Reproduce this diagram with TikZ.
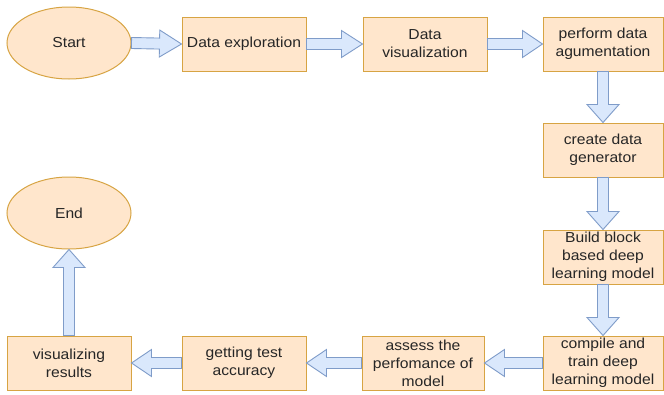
\documentclass[tikz,border=0pt]{standalone}
\usepackage{fontspec}
\setmainfont[FakeStretch=1.08]{Liberation Sans}
\usetikzlibrary{calc,shapes.geometric}

\definecolor{peach}{HTML}{FFE6CC}
\definecolor{peachline}{HTML}{D7A443}
\definecolor{arrowfill}{HTML}{DAE8FC}
\definecolor{arrowline}{HTML}{7F9CC9}
\definecolor{inktext}{HTML}{262626}

\tikzset{
  base/.style={fill=peach, draw=peachline, line width=1pt, text=inktext,
    font=\fontsize{14.5}{18}\selectfont, align=center, inner sep=0pt},
  stepbox/.style={base, rectangle, minimum width=124pt, minimum height=54pt},
  terminal/.style={base, ellipse, minimum width=124pt, minimum height=72pt},
  barrow/.style={fill=arrowfill, draw=arrowline, line width=0.9pt, line join=miter},
}

% Block arrow from #1 to #2: head length #3, half head width #4
\newcommand{\blockarrow}[4]{%
  \coordinate (ba-h) at ($(#2)!#3!(#1)$);
  \draw[barrow]
    ($(#1)!5.5pt!90:(#2)$) -- ($(ba-h)!5.5pt!90:(#2)$) --
    ($(ba-h)!#4!90:(#2)$) -- (#2) --
    ($(ba-h)!#4!-90:(#2)$) -- ($(ba-h)!5.5pt!-90:(#2)$) --
    ($(#1)!5.5pt!-90:(#2)$) -- cycle;
}

\begin{document}
\begin{tikzpicture}[x=1pt, y=-1pt]
  \useasboundingbox (0,0) rectangle (664,394);

  % top row
  \node[terminal] (start)   at (69,43)  {Start};
  \node[stepbox]  (explore) at (244,44) {Data exploration};
  \node[stepbox]  (visual)  at (425,44) {Data\\visualization};
  \node[stepbox, minimum width=120pt] (augment) at (603,44) {perform data\\agumentation};

  % right column
  \node[stepbox, minimum width=120pt] (generator) at (603,150) {create data\\generator};
  \node[stepbox, minimum width=120pt] (build)     at (603,257) {Build block\\based deep\\learning model};
  \node[stepbox, minimum width=120pt] (train)     at (603,363) {compile and\\train deep\\learning model};

  % bottom row
  \node[stepbox, minimum width=122pt] (assess)   at (423,363) {assess the\\perfomance of\\model};
  \node[stepbox]  (accuracy) at (244,363) {getting test\\accuracy};
  \node[stepbox]  (results)  at (69,363)  {visualizing\\results};
  \node[terminal] (finish)   at (69,213)  {End};

  % connectors
  \blockarrow{start.east}{explore.west}{22pt}{13.5pt}
  \blockarrow{explore.east}{visual.west}{21pt}{13.5pt}
  \blockarrow{visual.east}{augment.west}{20pt}{13.5pt}
  \blockarrow{augment.south}{generator.north}{18pt}{16pt}
  \blockarrow{generator.south}{build.north}{18pt}{16pt}
  \blockarrow{build.south}{train.north}{18pt}{16pt}
  \blockarrow{train.west}{assess.east}{20pt}{13.5pt}
  \blockarrow{assess.west}{accuracy.east}{20pt}{13.5pt}
  \blockarrow{accuracy.west}{results.east}{20pt}{13.5pt}
  \blockarrow{results.north}{finish.south}{18pt}{16pt}
\end{tikzpicture}
\end{document}
